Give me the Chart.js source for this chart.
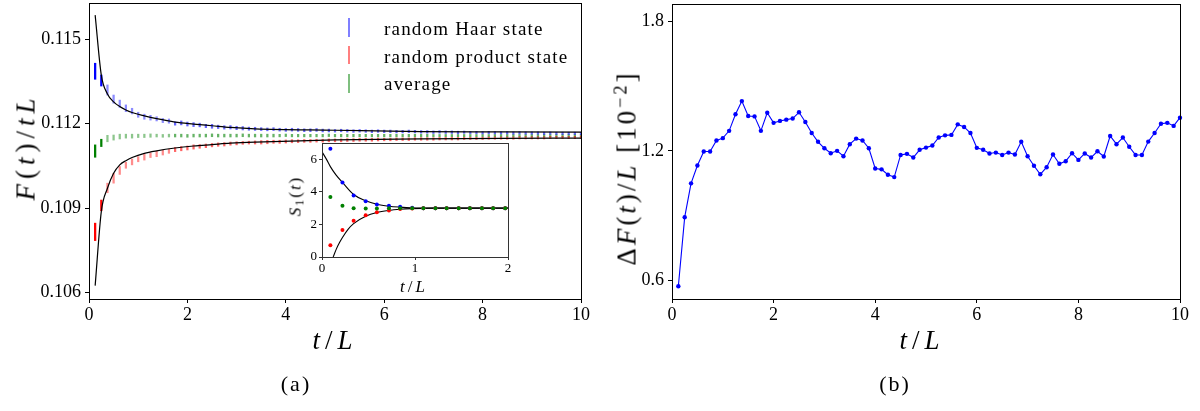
<!DOCTYPE html>
<html><head><meta charset="utf-8">
<script src="https://cdn.jsdelivr.net/npm/chart.js@4"></script>
<style>
html,body{margin:0;padding:0;background:#fff;}
body{width:1200px;height:411px;overflow:hidden;position:relative;}
.box{position:absolute;}
.t{position:absolute;white-space:nowrap;line-height:1;color:#000;font-family:'Liberation Serif',serif;}
.c{transform:translate(-50%,-50%);}
.r{transform:translate(-50%,-50%) rotate(-90deg);}
.lm{position:absolute;width:2px;}
sup{font-size:0.68em;vertical-align:0.5em;line-height:0;}
sub{font-size:0.7em;vertical-align:-0.25em;line-height:0;}
</style></head><body>
<div class="box" style="left:0;top:0;width:600px;height:411px"><canvas id="cA" width="600" height="411" style="width:600px;height:411px"></canvas></div>
<div class="box" style="left:600px;top:0;width:600px;height:411px"><canvas id="cB" width="600" height="411" style="width:600px;height:411px"></canvas></div>
<div class="box" style="left:280px;top:130px;width:240px;height:175px"><canvas id="cI" width="240" height="175" style="width:240px;height:175px"></canvas></div>

<div class="lm" style="left:348px;top:18px;height:19px;background:rgba(0,0,255,0.5)"></div>
<div class="lm" style="left:348px;top:46px;height:18px;background:rgba(255,0,0,0.5)"></div>
<div class="lm" style="left:348px;top:74px;height:19px;background:rgba(0,128,0,0.5)"></div>
<div class="t" style="left:384px;top:19px;font-size:19px;letter-spacing:1.2px">random Haar state</div>
<div class="t" style="left:384px;top:47px;font-size:19px;letter-spacing:1.2px">random product state</div>
<div class="t" style="left:384px;top:74px;font-size:19px;letter-spacing:1.2px">average</div>

<div class="t r" style="left:26px;top:147px;font-size:27px;letter-spacing:5px"><i>F</i>(<i>t</i>)/<i>tL</i></div>
<div class="t c" style="left:335px;top:340px;font-size:27px;letter-spacing:5px"><i>t</i>/<i>L</i></div>
<div class="t r" style="left:627px;top:168px;font-size:27px;letter-spacing:3px">Δ<i>F</i>(<i>t</i>)/<i>L</i> [10<sup>−2</sup>]</div>
<div class="t c" style="left:922px;top:340px;font-size:27px;letter-spacing:5px"><i>t</i>/<i>L</i></div>
<div class="t c" style="left:296px;top:384px;font-size:22px;letter-spacing:2px">(a)</div>
<div class="t c" style="left:895px;top:384px;font-size:22px;letter-spacing:2px">(b)</div>
<div class="t r" style="left:295px;top:196px;font-size:17px;letter-spacing:2px"><i>S</i><sub>1</sub>(<i>t</i>)</div>
<div class="t c" style="left:414px;top:286px;font-size:17px;letter-spacing:3px"><i>t</i>/<i>L</i></div>

<script>
// ---------------- data ----------------
const tValues = [0.125,0.25,0.375,0.5,0.625,0.75,0.875,1,
1.125,1.25,1.375,1.5,1.625,1.75,1.875,2,
2.125,2.25,2.375,2.5,2.625,2.75,2.875,3,
3.125,3.25,3.375,3.5,3.625,3.75,3.875,4,
4.125,4.25,4.375,4.5,4.625,4.75,4.875,5,
5.125,5.25,5.375,5.5,5.625,5.75,5.875,6,
6.125,6.25,6.375,6.5,6.625,6.75,6.875,7,
7.125,7.25,7.375,7.5,7.625,7.75,7.875,8,
8.125,8.25,8.375,8.5,8.625,8.75,8.875,9,
9.125,9.25,9.375,9.5,9.625,9.75,9.875,10];

const haarMean = [0.113865,0.113535,0.11320,0.112875,0.11271,0.11255,0.11245,0.11232,0.11225,0.112215,
0.112175,0.112115,0.112095,0.11201,0.11203,0.11199,0.11197,0.111955,0.11192,0.11191,
0.11189,0.11187,0.111875,0.11185,0.11184,0.111825,0.11182,0.11181,0.11180,0.11181,
0.11179,0.11178,0.11179,0.11178,0.11177,0.11177,0.11178,0.11176,0.11176,0.11175,
0.11176,0.11175,0.11174,0.11175,0.11174,0.11173,0.11174,0.11173,0.11173,0.11172,
0.11172,0.11173,0.11172,0.11171,0.11171,0.11170,0.11171,0.11170,0.11170,0.11169,
0.11170,0.11169,0.11169,0.11168,0.11169,0.11168,0.11168,0.11168,0.11167,0.11168,
0.11167,0.11167,0.11167,0.11166,0.11167,0.11166,0.11166,0.11166,0.11166,0.11165];
const haarErr = [0.000285,0.000195,0.00018,0.000145,0.00013,0.00012,0.0001,0.00009,0.00009,0.000085,
0.000075,0.000075,0.000075,0.00006,0.00007,0.00007,0.00007,0.000065,0.00006,0.00007,
0.00006,0.00006,0.00006,0.00006,0.00006,0.000055,0.000055,0.00005,0.00005,0.00005,
0.00005,0.00005,0.00005,0.00005,0.00005,0.00005,0.00005,0.00005,0.00005,0.000045,
0.000045,0.000045,0.000045,0.000045,0.000045,0.000045,0.000045,0.000045,0.000045,0.000045,
0.000045,0.000045,0.000045,0.000045,0.000045,0.000045,0.000045,0.000045,0.000045,0.000045,
0.00004,0.00004,0.00004,0.00004,0.00004,0.00004,0.00004,0.00004,0.00004,0.00004,
0.00004,0.00004,0.00004,0.00004,0.00004,0.00004,0.00004,0.00004,0.00004,0.00004];

const productMean = [0.10816,0.10910,0.10972,0.110065,0.11034,0.110525,0.110645,0.11074,0.110815,0.110885,
0.110925,0.11098,0.111025,0.111085,0.111115,0.11114,0.111175,0.111195,0.111215,0.11124,
0.11126,0.11127,0.111295,0.111305,0.11132,0.11133,0.111335,0.11134,0.11135,0.11136,
0.11136,0.11137,0.11138,0.11138,0.11139,0.11139,0.11140,0.11140,0.11141,0.11141,
0.11141,0.11142,0.11142,0.11143,0.11143,0.11143,0.11144,0.11144,0.11144,0.11145,
0.11145,0.11145,0.11146,0.11146,0.11146,0.11146,0.11147,0.11147,0.11147,0.11147,
0.11148,0.11148,0.11148,0.11148,0.11149,0.11149,0.11149,0.11149,0.11149,0.11150,
0.11150,0.11150,0.11150,0.11150,0.11151,0.11151,0.11151,0.11151,0.11151,0.11152];
const productErr = [0.00031,0.00019,0.00017,0.000175,0.00014,0.000105,0.000105,0.00009,0.000105,0.000085,
0.000095,0.00009,0.000075,0.000075,0.000075,0.00007,0.000075,0.000065,0.000065,0.00006,
0.00006,0.00006,0.000055,0.000055,0.00005,0.00005,0.000055,0.00006,0.00006,0.000055,
0.000055,0.000055,0.000055,0.00005,0.00005,0.00005,0.00005,0.00005,0.00005,0.00005,
0.00005,0.00005,0.00005,0.00005,0.00005,0.00005,0.00005,0.000045,0.000045,0.000045,
0.000045,0.000045,0.000045,0.000045,0.000045,0.000045,0.000045,0.000045,0.000045,0.000045,
0.00004,0.00004,0.00004,0.00004,0.00004,0.00004,0.00004,0.00004,0.00004,0.00004,
0.00004,0.00004,0.00004,0.00004,0.00004,0.00004,0.00004,0.00004,0.00004,0.00004];

const averageMean = [0.11103,0.11132,0.111475,0.11151,0.111545,0.11156,0.11156,0.11157,0.11157,0.11158,
0.11158,0.11157,0.11158,0.11158,0.11158,0.11157,0.11158,0.11158,0.11158,0.11159,
0.11158,0.11158,0.11158,0.11158,0.11159,0.11158,0.11158,0.11158,0.11158,0.11158,
0.11158,0.11159,0.11158,0.11158,0.11158,0.11158,0.11158,0.11158,0.11159,0.11158,
0.11158,0.11158,0.11158,0.11158,0.11158,0.11158,0.11158,0.11158,0.11158,0.11158,
0.11158,0.11158,0.11158,0.11158,0.11158,0.11158,0.11158,0.11158,0.11158,0.11158,
0.11158,0.11158,0.11158,0.11158,0.11158,0.11158,0.11158,0.11158,0.11158,0.11158,
0.11158,0.11158,0.11158,0.11158,0.11158,0.11158,0.11158,0.11158,0.11158,0.11158];
const averageErr = [0.00022,0.00013,0.000115,0.00009,0.000085,0.00007,0.00007,0.00006,0.00006,0.00006,
0.00005,0.00005,0.00005,0.00005,0.00005,0.00005,0.00005,0.00005,0.00005,0.00005,
0.00005,0.00005,0.00005,0.00005,0.00005,0.00005,0.00005,0.00005,0.00005,0.00005,
0.000045,0.000045,0.000045,0.000045,0.000045,0.000045,0.000045,0.000045,0.000045,0.000045,
0.000045,0.000045,0.000045,0.000045,0.000045,0.000045,0.000045,0.000045,0.000045,0.000045,
0.000045,0.000045,0.000045,0.000045,0.000045,0.00004,0.00004,0.00004,0.00004,0.00004,
0.00004,0.00004,0.00004,0.00004,0.00004,0.00004,0.00004,0.00004,0.00004,0.00004,
0.00004,0.00004,0.00004,0.00004,0.00004,0.00004,0.00004,0.00004,0.00004,0.00004];

const curveT = [0.125,0.25,0.375,0.5,0.625,0.75,0.875,1.125,1.375,1.75,2.125,2.5,2.875,3.375,5,6.75,8.4,10];
const upperCurve = [0.11586,0.11373,0.11306,0.11278,0.11261,0.11249,0.1124,0.11228,0.11218,0.11206,0.11199,0.11193,0.11187,0.11182,0.11177,0.11172,0.11171,0.1117];
const lowerCurve = [0.10625,0.10888,0.10971,0.11024,0.11054,0.11069,0.1108,0.11095,0.11104,0.11114,0.11121,0.11126,0.11131,0.11135,0.11143,0.11146,0.11148,0.11149];

const deltaF = [0.571,0.892,1.049,1.132,1.197,1.197,1.248,1.259,1.293,1.370,
1.431,1.362,1.360,1.293,1.377,1.330,1.339,1.345,1.350,1.379,
1.334,1.283,1.242,1.212,1.189,1.200,1.175,1.231,1.257,1.248,
1.212,1.118,1.114,1.089,1.078,1.181,1.186,1.169,1.205,1.215,
1.225,1.262,1.272,1.274,1.323,1.311,1.283,1.214,1.205,1.188,
1.192,1.181,1.192,1.183,1.242,1.175,1.131,1.091,1.124,1.183,
1.140,1.152,1.189,1.158,1.188,1.169,1.198,1.174,1.269,1.231,
1.262,1.219,1.181,1.181,1.243,1.283,1.326,1.330,1.316,1.354];

const insetT = [0.09,0.22,0.34,0.47,0.59,0.72,0.84,0.97,1.09,1.22,1.34,1.47,1.59,1.72,1.84,1.97];
const insetHaar = [6.64,4.58,3.78,3.43,3.23,3.14,3.08,3.02,3.0,3.0,3.0,3.0,3.0,3.0,3.0,3.0];
const insetProduct = [0.72,1.66,2.22,2.57,2.75,2.86,2.94,2.98,3.0,3.0,3.0,3.0,3.0,3.0,3.0,3.0];
const insetAverage = [3.68,3.14,3.0,2.98,2.98,3.0,3.0,3.0,3.0,3.0,3.0,3.0,3.0,3.0,3.0,3.0];
const insetUpperT = [0,0.05,0.09,0.15,0.22,0.34,0.47,0.59,0.72,0.84,0.96,1.2,2];
const insetUpperS = [6.46,5.98,5.55,5.04,4.58,3.84,3.45,3.24,3.12,3.06,3.02,3.0,3.0];
const insetLowerT = [0.12,0.155,0.19,0.22,0.28,0.34,0.47,0.59,0.72,0.84,0.96,1.2,2];
const insetLowerS = [0,0.5,0.9,1.2,1.7,2.05,2.5,2.73,2.86,2.93,2.97,3.0,3.0];

const leftXTicks = [0,2,4,6,8,10];
const leftXLabels = ['0','2','4','6','8','10'];
const leftYTicks = [0.106,0.109,0.112,0.115];
const leftYLabels = ['0.106','0.109','0.112','0.115'];
const rightYTicks = [0.6,1.2,1.8];
const rightYLabels = ['0.6','1.2','1.8'];
const insetXTicks = [0,1,2];
const insetXLabels = ['0','1','2'];
const insetYTicks = [0,2,4,6];
const insetYLabels = ['0','2','4','6'];

// ---------------- helpers ----------------
Chart.defaults.font.family = "'Liberation Serif', serif";
Chart.defaults.color = '#000';

function axis(o){
  return {
    type:'linear', position:o.pos, min:o.min, max:o.max, offset:false, bounds:'data',
    grid:{display:true, drawOnChartArea:false, drawTicks:true, tickLength:o.tickLen, color:o.color||'#000', lineWidth:1, offset:false},
    border:{display:true, color:o.color||'#000', width:1},
    ticks:{font:{size:o.fontSize, family:"'Liberation Serif', serif"}, color:'#000', padding:o.pad, maxRotation:0, minRotation:0, autoSkip:false,
      callback:(v,i)=>o.labels[i]},
    afterBuildTicks:(s)=>{ s.ticks = o.ticks.map(v=>({value:v})); },
    afterFit:(s)=>{ if(s.isHorizontal()) s.height=o.size; else s.width=o.size; s.paddingLeft=0; s.paddingRight=0; s.paddingTop=0; s.paddingBottom=0; }
  };
}
const frame = {
  id:'frame',
  afterDraw(c,a,o){
    const {left,top,right,bottom}=c.chartArea; const ctx=c.ctx;
    const al = p => Math.round(p-0.5)+0.5;
    ctx.save(); ctx.strokeStyle=o.color||'#000'; ctx.lineWidth=1;
    ctx.strokeRect(al(left), al(top), al(right)-al(left), al(bottom)-al(top));
    ctx.restore();
  }
};
const fillBg = {
  id:'fillBg',
  beforeDraw(c,a,o){ if(o.on){ const {left,top,width,height}=c.chartArea; const ctx=c.ctx; ctx.save(); ctx.fillStyle='#fff'; ctx.fillRect(left,top,width,height); ctx.restore(); } }
};

function barSet(label, mean, err, rgb){
  return {
    type:'bar', label,
    data: tValues.map((t,i)=>({x:t, y:[mean[i]-err[i], mean[i]+err[i]]})),
    backgroundColor: tValues.map((t,i)=> i<2 ? `rgba(${rgb},1)` : (i<13 ? `rgba(${rgb},0.45)` : `rgba(${rgb},0.6)`)),
    borderWidth:0, barThickness:1.6, grouped:false, order:2
  };
}
function curveSet(ts, vs, w){
  return {type:'line', data: ts.map((t,i)=>({x:t,y:vs[i]})), borderColor:'#000', borderWidth:w, pointRadius:0,
    cubicInterpolationMode:'monotone', fill:false, order:0};
}
const common = {responsive:false, animation:false, devicePixelRatio:1, events:[],
  plugins:{legend:{display:false}, tooltip:{enabled:false}}};

// ---------------- panel (a) ----------------
new Chart(document.getElementById('cA'), {
  type:'bar',
  data:{datasets:[
    curveSet(curveT, upperCurve, 1.2),
    curveSet(curveT, lowerCurve, 1.2),
    barSet('random Haar state', haarMean, haarErr, '0,0,255'),
    barSet('random product state', productMean, productErr, '255,0,0'),
    barSet('average', averageMean, averageErr, '0,128,0')
  ]},
  options:Object.assign({}, common, {
    layout:{padding:{left:0, top:3, right:19, bottom:0}},
    scales:{
      x: axis({pos:'bottom', min:0, max:10, ticks:leftXTicks, labels:leftXLabels, tickLen:4, fontSize:18, pad:1, size:112}),
      y: axis({pos:'left', min:0.105776, max:0.116289, ticks:leftYTicks, labels:leftYLabels, tickLen:4, fontSize:18, pad:4, size:89})
    }
  }),
  plugins:[frame]
});

// ---------------- panel (b) ----------------
new Chart(document.getElementById('cB'), {
  type:'line',
  data:{datasets:[{
    data: tValues.map((t,i)=>({x:t,y:deltaF[i]})),
    borderColor:'#0000ff', backgroundColor:'#0000ff', borderWidth:1.1,
    pointRadius:2.2, pointBorderWidth:0, pointBackgroundColor:'#0000ff', tension:0, clip:4
  }]},
  options:Object.assign({}, common, {
    layout:{padding:{left:0, top:3, right:20, bottom:0}},
    scales:{
      x: axis({pos:'bottom', min:0, max:10, ticks:leftXTicks, labels:leftXLabels, tickLen:4, fontSize:18, pad:1, size:112}),
      y: axis({pos:'left', min:0.512, max:1.882, ticks:rightYTicks, labels:rightYLabels, tickLen:4, fontSize:18, pad:4, size:72})
    }
  }),
  plugins:[frame]
});

// ---------------- inset ----------------
function dots(vs, color, ord){
  return {type:'line', data: insetT.map((t,i)=>({x:t,y:vs[i]})), showLine:false, pointRadius:2, pointBorderWidth:0,
    pointBackgroundColor:color, backgroundColor:color, borderColor:color, order:ord};
}
function icurve(ts, vs){
  return {type:'line', data: ts.map((t,i)=>({x:t,y:vs[i]})), borderColor:'#000', borderWidth:1.1, pointRadius:0,
    cubicInterpolationMode:'monotone', order:4};
}
new Chart(document.getElementById('cI'), {
  type:'line',
  data:{datasets:[
    icurve(insetUpperT, insetUpperS),
    icurve(insetLowerT, insetLowerS),
    dots(insetHaar, '#0000ff', 3),
    dots(insetProduct, '#ff0000', 2),
    dots(insetAverage, '#008000', 1)
  ]},
  options:Object.assign({}, common, {
    layout:{padding:{left:0, top:13, right:12, bottom:0}},
    scales:{
      x: axis({pos:'bottom', min:0, max:2, ticks:insetXTicks, labels:insetXLabels, tickLen:3, fontSize:13, pad:1, size:48, color:'#333'}),
      y: axis({pos:'left', min:0, max:7, ticks:insetYTicks, labels:insetYLabels, tickLen:3, fontSize:13, pad:2, size:42, color:'#333'})
    },
    plugins:{legend:{display:false}, tooltip:{enabled:false}, fillBg:{on:true}, frame:{color:'#333'}}
  }),
  plugins:[fillBg, frame]
});
</script>
</body></html>
